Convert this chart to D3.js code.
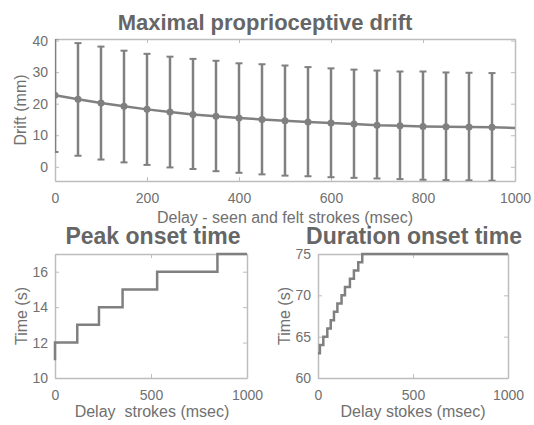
<!DOCTYPE html>
<html>
<head>
<meta charset="utf-8">
<script src="https://cdn.jsdelivr.net/npm/d3@7"></script>
<style>
body { margin: 0; background: #fff; }
text { font-family: "Liberation Sans", Arial, sans-serif; white-space: pre; }
</style>
</head>
<body>
<div id="chart"></div>
<script>
// drift data (mm) per delay (msec)
var delays = [0, 50, 100, 150, 200, 250, 300, 350, 400, 450, 500, 550, 600, 650, 700, 750, 800, 850, 900, 950];
var driftMean = [22.7, 21.4, 20.2, 19.2, 18.2, 17.4, 16.6, 16.0, 15.5, 15.0, 14.6, 14.2, 13.9, 13.6, 13.2, 13.0, 12.8, 12.7, 12.6, 12.5];
var driftLow = [4.7, 3.5, 2.3, 1.4, 0.6, -0.2, -0.7, -1.4, -1.9, -2.4, -2.8, -3.0, -3.3, -3.5, -3.7, -3.9, -4.1, -4.2, -4.3, -4.4];
var driftHigh = [40.7, 39.2, 38.1, 36.8, 35.8, 34.9, 34.2, 33.6, 32.8, 32.5, 32.1, 31.6, 31.2, 30.8, 30.5, 30.2, 30.2, 29.9, 29.8, 29.7];
var lineEnd = [1000, 12.3];

// peak onset steps
var peakX = [0, 0, 116, 229, 352, 532, 846, 1000];
var peakY = [11, 12, 13, 14, 15, 16, 17, 17];

// duration onset steps
var durX = [0, 10, 28, 49, 67, 84, 102, 124, 142, 168, 189, 212, 233, 1000];
var durY = [63, 64, 65, 66, 67, 68, 69, 70, 71, 72, 73, 74, 75, 75];

var grey = "#808080", textCol = "#707070", boxCol = "#bdbdbd";
var fmt = d3.format("d");

var svg = d3.select("#chart").append("svg")
    .attr("width", 534)
    .attr("height", 425);

// draws a matlab-like box with inward ticks on all sides
function drawAxes(g, x, y, xt, yt, w, h) {
    g.append("g").attr("transform", `translate(0,${h})`)
        .call(d3.axisBottom(x).tickValues(xt).tickFormat(fmt).tickSizeInner(-4).tickSizeOuter(0).tickPadding(12));
    g.append("g")
        .call(d3.axisLeft(y).tickValues(yt).tickFormat(fmt).tickSizeInner(-4).tickSizeOuter(0).tickPadding(7));
    g.append("g")
        .call(d3.axisTop(x).tickValues(xt).tickSizeInner(-4).tickSizeOuter(0).tickFormat(""));
    g.append("g").attr("transform", `translate(${w},0)`)
        .call(d3.axisRight(y).tickValues(yt).tickSizeInner(-4).tickSizeOuter(0).tickFormat(""));
    g.selectAll(".domain").attr("stroke", boxCol).attr("stroke-width", 1.5);
    g.selectAll(".tick line").attr("stroke", boxCol);
    g.selectAll(".tick text").attr("fill", textCol).style("font-size", "14px")
        .style("font-family", "'Liberation Sans', Arial, sans-serif");
}

// ---- top plot
var m1 = {left: 55, top: 39, width: 460, height: 142};
var x1 = d3.scaleLinear().domain([0, 1000]).range([0, m1.width]);
var y1 = d3.scaleLinear().domain([-4.5, 40.5]).range([m1.height, 0]);
var g1 = svg.append("g").attr("transform", `translate(${m1.left},${m1.top})`);

g1.append("clipPath").attr("id", "clip1").append("rect")
    .attr("width", m1.width).attr("height", m1.height);

drawAxes(g1, x1, y1, [0, 200, 400, 600, 800, 1000], [0, 10, 20, 30, 40], m1.width, m1.height);

var plot1 = g1.append("g").attr("clip-path", "url(#clip1)");
var pts = delays.map((d, i) => [d, driftMean[i]]).concat([lineEnd]);
plot1.append("path")
    .datum(pts)
    .attr("fill", "none")
    .attr("stroke", grey)
    .attr("stroke-width", 2.5)
    .attr("d", d3.line().x(d => x1(d[0])).y(d => y1(d[1])));

var bars = plot1.selectAll("g.bar").data(delays).enter().append("g").attr("class", "bar");
bars.append("line")
    .attr("x1", d => x1(d)).attr("x2", d => x1(d))
    .attr("y1", (d, i) => y1(driftLow[i])).attr("y2", (d, i) => y1(driftHigh[i]))
    .attr("stroke", grey).attr("stroke-width", 2.5);
bars.append("line")
    .attr("x1", d => x1(d) - 3.5).attr("x2", d => x1(d) + 3.5)
    .attr("y1", (d, i) => y1(driftLow[i])).attr("y2", (d, i) => y1(driftLow[i]))
    .attr("stroke", grey).attr("stroke-width", 2);
bars.append("line")
    .attr("x1", d => x1(d) - 3.5).attr("x2", d => x1(d) + 3.5)
    .attr("y1", (d, i) => y1(driftHigh[i])).attr("y2", (d, i) => y1(driftHigh[i]))
    .attr("stroke", grey).attr("stroke-width", 2);
bars.append("circle")
    .attr("cx", d => x1(d)).attr("cy", (d, i) => y1(driftMean[i]))
    .attr("r", 3.5).attr("fill", grey);

svg.append("text").attr("x", 265).attr("y", 30).attr("text-anchor", "middle")
    .attr("fill", "#666").style("font-size", "22px").style("font-weight", "bold")
    .text("Maximal proprioceptive drift");
svg.append("text").attr("x", 285).attr("y", 223).attr("text-anchor", "middle")
    .attr("fill", textCol).style("font-size", "16px")
    .text("Delay - seen and felt strokes (msec)");
svg.append("text").attr("transform", "rotate(-90)").attr("x", -110).attr("y", 26)
    .attr("text-anchor", "middle").attr("fill", textCol).style("font-size", "16px")
    .text("Drift (mm)");

// ---- bottom left
var m2 = {left: 55, top: 254, width: 192, height: 124};
var x2 = d3.scaleLinear().domain([0, 1000]).range([0, m2.width]);
var y2 = d3.scaleLinear().domain([10, 17]).range([m2.height, 0]);
var g2 = svg.append("g").attr("transform", `translate(${m2.left},${m2.top})`);
drawAxes(g2, x2, y2, [0, 500, 1000], [10, 12, 14, 16], m2.width, m2.height);
g2.append("path")
    .datum(peakX.map((d, i) => [d, peakY[i]]))
    .attr("fill", "none").attr("stroke", grey).attr("stroke-width", 2.5)
    .attr("d", d3.line().curve(d3.curveStepAfter).x(d => x2(d[0])).y(d => y2(d[1])));

svg.append("text").attr("x", 153).attr("y", 244).attr("text-anchor", "middle")
    .attr("fill", "#666").style("font-size", "23px").style("font-weight", "bold")
    .text("Peak onset time");
svg.append("text").attr("x", 152).attr("y", 417).attr("text-anchor", "middle")
    .attr("fill", textCol).style("font-size", "16px")
    .text("Delay  strokes (msec)");
svg.append("text").attr("transform", "rotate(-90)").attr("x", -316).attr("y", 27)
    .attr("text-anchor", "middle").attr("fill", textCol).style("font-size", "16px")
    .text("Time (s)");

// ---- bottom right
var m3 = {left: 318, top: 254, width: 190, height: 124};
var x3 = d3.scaleLinear().domain([0, 1000]).range([0, m3.width]);
var y3 = d3.scaleLinear().domain([60, 75]).range([m3.height, 0]);
var g3 = svg.append("g").attr("transform", `translate(${m3.left},${m3.top})`);
drawAxes(g3, x3, y3, [0, 500, 1000], [60, 65, 70, 75], m3.width, m3.height);
g3.append("path")
    .datum(durX.map((d, i) => [d, durY[i]]))
    .attr("fill", "none").attr("stroke", grey).attr("stroke-width", 2.5)
    .attr("d", d3.line().curve(d3.curveStepAfter).x(d => x3(d[0])).y(d => y3(d[1])));

svg.append("text").attr("x", 414).attr("y", 244).attr("text-anchor", "middle")
    .attr("fill", "#666").style("font-size", "23px").style("font-weight", "bold")
    .text("Duration onset time");
svg.append("text").attr("x", 413).attr("y", 417).attr("text-anchor", "middle")
    .attr("fill", textCol).style("font-size", "16px")
    .text("Delay stokes (msec)");
svg.append("text").attr("transform", "rotate(-90)").attr("x", -316).attr("y", 290)
    .attr("text-anchor", "middle").attr("fill", textCol).style("font-size", "16px")
    .text("Time (s)");
</script>
</body>
</html>
